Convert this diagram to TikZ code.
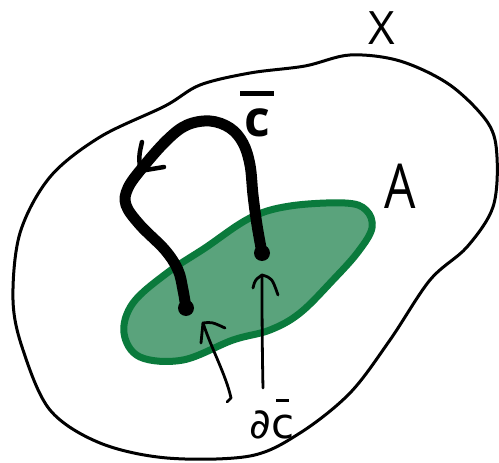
\documentclass[tikz,border=0pt]{standalone}
\usepackage{fontspec}
\usepackage{graphicx}
\setmainfont{Open Sans}
\newfontfamily\djv{DejaVu Sans}
\definecolor{Afill}{HTML}{5AA37C}
\definecolor{Aedge}{HTML}{0A7A3C}
\begin{document}
\begin{tikzpicture}[x=1pt,y=-1pt,line cap=round,line join=round,
  outerline/.style={line width=3pt},
  regionA/.style={fill=Afill,draw=Aedge,line width=7pt},
  pathc/.style={line width=11pt},
  barb/.style={line width=4.5pt},
  thinarrow/.style={line width=2.8pt},
  dotnode/.style={circle,fill=black,inner sep=0pt,minimum size=16pt},
  lbl/.style={inner sep=0pt}]
\useasboundingbox (0,0) rectangle (499,463);
% space X
\draw[outerline] plot[smooth cycle,tension=0.55] coordinates {(250,73) (200,85) (165,106) (100,137) (50,177) (20,233) (13,300) (23,350) (50,410) (100,443) (167,458) (250,456) (300,433) (350,393) (390,340) (430,280) (467,247) (493,207) (497,157) (488,123) (450,85) (400,61) (350,55) (305,66)};
% region A
\filldraw[regionA] plot[smooth cycle,tension=0.6] coordinates {(250,218) (290,206) (345,203) (366,210) (372,228) (358,252) (333,280) (300,313) (270,330) (233,340) (183,360) (140,357) (124,333) (133,303) (167,273) (205,248)};
% end points
\node[dotnode] (p) at (262,253) {};
\node[dotnode] (q) at (186,308) {};
% path c
\draw[pathc] plot[smooth,tension=0.6] coordinates {(p.center) (257,225) (253,195) (250,165) (243,143) (230,128) (210,121) (187,125) (167,140) (143,167) (128,188) (126,205) (140,225) (165,250) (178,270) (183,290) (q.center)};
\draw[barb] (142,142) .. controls (139,155) .. (140,171) -- (164,167);
% labels
\node[lbl] (X) at (382,28) {\fontsize{46}{46}\selectfont X};
\node[lbl] (A) at (400,186) {\fontsize{62}{62}\selectfont\scalebox{0.8}[1]{A}};
\node[lbl] (cb) at (257,114) {\shortstack{\rule{34pt}{5pt}\\[9pt]\fontsize{50}{50}\selectfont\bfseries c}};
\node[lbl] (dl) at (272,419) {\djv\fontsize{42}{42}\selectfont ∂\shortstack{\rule{13pt}{2.5pt}\\[10pt]c}};
% arrows from boundary label
\coordinate (s1) at (231,398);
\coordinate (t1) at (203,323);
\coordinate (s2) at (263,388);
\coordinate (t2) at (262,275);
\draw[thinarrow] (227,402) -- (s1) .. controls (226,375) and (212,350) .. (t1);
\draw[thinarrow] (201,343) -- (t1) .. controls (212,322) .. (225,328);
\draw[thinarrow] (s2) .. controls (262,340) and (262,300) .. (t2);
\draw[thinarrow] (253,288) .. controls (255,280) .. (t2) .. controls (272,278) .. (278,295);
\end{tikzpicture}
\end{document}
